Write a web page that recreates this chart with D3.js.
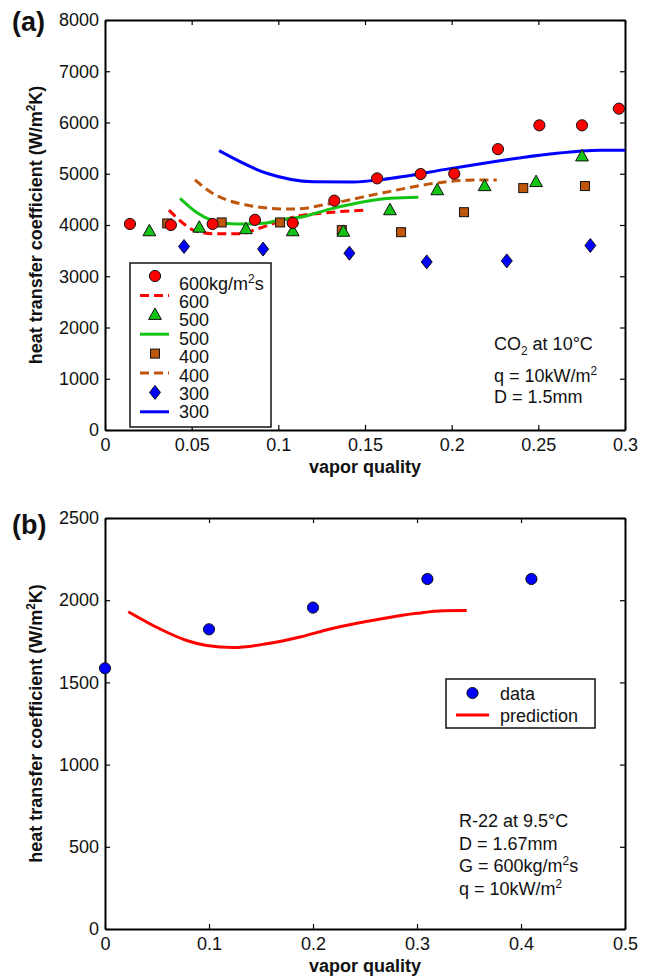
<!DOCTYPE html>
<html>
<head>
<meta charset="utf-8">
<script src="https://cdn.jsdelivr.net/npm/d3@7"></script>
<style>
  html, body { margin: 0; padding: 0; background: #fff; }
  svg { display: block; font-family: "Liberation Sans", Arial, Helvetica, sans-serif; }
  .axis path, .axis line { stroke: #000; }
  .axis text { font-size: 18px; fill: #111; font-family: "Liberation Sans", Arial, sans-serif; }
</style>
</head>
<body>
<svg id="fig" width="650" height="977"></svg>
<script>
// ---------- panel (a): CO2 flow boiling, measured vs predicted ----------
const xTicksA = [0, 0.05, 0.1, 0.15, 0.2, 0.25, 0.3];
const xTickLabelsA = ["0", "0.05", "0.1", "0.15", "0.2", "0.25", "0.3"];
const yTicksA = [0, 1000, 2000, 3000, 4000, 5000, 6000, 7000, 8000];

// measured points, G = 600 / 500 / 400 / 300 kg/m2s
const q600 = [0.0144, 0.038, 0.0621, 0.0865, 0.1083, 0.1323, 0.157, 0.1821, 0.2015, 0.2267, 0.2506, 0.2752, 0.2965];
const h600 = [4020, 4000, 4020, 4100, 4040, 4475, 4910, 4995, 5000, 5480, 5945, 5945, 6270];
const q500 = [0.0256, 0.0544, 0.0813, 0.1083, 0.1375, 0.1644, 0.1917, 0.2190, 0.2487, 0.2752];
const h500 = [3880, 3950, 3920, 3880, 3870, 4290, 4680, 4760, 4840, 5340];
const q400 = [0.0359, 0.0673, 0.1010, 0.1366, 0.1708, 0.2071, 0.2413, 0.2769];
const h400 = [4030, 4050, 4050, 3900, 3860, 4250, 4720, 4760];
const q300 = [0.0456, 0.0912, 0.1410, 0.1856, 0.2318, 0.2800];
const h300 = [3580, 3530, 3450, 3280, 3300, 3600];

// predicted curves
const pq600 = [0.0369, 0.0452, 0.0509, 0.0623, 0.0779, 0.0875, 0.0990, 0.1106, 0.1298, 0.151];
const ph600 = [4290, 4030, 3900, 3830, 3830, 3920, 4050, 4170, 4245, 4290];
const pq500 = [0.0433, 0.0529, 0.0625, 0.0702, 0.0817, 0.0933, 0.101, 0.1125, 0.1298, 0.1644, 0.1808];
const ph500 = [4520, 4245, 4080, 4030, 4020, 4040, 4100, 4150, 4310, 4520, 4540];
const pq400 = [0.0519, 0.0606, 0.0702, 0.0817, 0.0952, 0.1087, 0.1298, 0.1606, 0.1894, 0.2087, 0.226];
const ph400 = [4880, 4650, 4490, 4390, 4325, 4310, 4415, 4630, 4810, 4875, 4880];
const pq300 = [0.0658, 0.0933, 0.1202, 0.1433, 0.1604, 0.199, 0.2279, 0.2567, 0.2856, 0.3];
const ph300 = [5450, 5010, 4845, 4840, 4890, 5100, 5255, 5385, 5460, 5460];

// ---------- panel (b): R-22 ----------
const xTicksB = [0, 0.1, 0.2, 0.3, 0.4, 0.5];
const xTickLabelsB = ["0", "0.1", "0.2", "0.3", "0.4", "0.5"];
const yTicksB = [0, 500, 1000, 1500, 2000, 2500];
const qData = [0, 0.1, 0.2, 0.31, 0.41];
const hData = [1586, 1823, 1955, 2129, 2129];
const qPred = [0.0224, 0.0529, 0.0785, 0.0977, 0.1234, 0.1555, 0.1875, 0.2163, 0.2676, 0.2997, 0.3253, 0.3478];
const hPred = [1930, 1825, 1755, 1725, 1712, 1735, 1776, 1825, 1889, 1920, 1936, 1937];

const RED = "#ff0000", GREEN = "#14c414", BROWN = "#c0560c", BLUE = "#0000ff";

const svg = d3.select("#fig");
const zip = (a, b) => a.map((v, i) => [v, b[i]]);

function frame(x, y, xTicks, xLabels, yTicks) {
  const g = svg.append("g");
  const [x0, x1] = x.range(), [y0, y1] = y.range();
  g.append("g").attr("class", "axis").attr("transform", `translate(0,${y0})`)
    .call(d3.axisBottom(x).tickValues(xTicks).tickFormat((d, i) => xLabels[i]).tickSize(-5).tickSizeOuter(0).tickPadding(8));
  g.append("g").attr("class", "axis").attr("transform", `translate(${x0},0)`)
    .call(d3.axisLeft(y).tickValues(yTicks).tickFormat(d => String(d)).tickSize(-5).tickSizeOuter(0).tickPadding(6));
  g.append("g").attr("class", "axis").attr("transform", `translate(0,${y1})`)
    .call(d3.axisTop(x).tickValues(xTicks).tickFormat("").tickSize(-5).tickSizeOuter(0));
  g.append("g").attr("class", "axis").attr("transform", `translate(${x1},0)`)
    .call(d3.axisRight(y).tickValues(yTicks).tickFormat("").tickSize(-5).tickSizeOuter(0));
  g.selectAll(".axis path.domain").attr("stroke-width", 2);
  g.selectAll(".axis .tick line").attr("stroke-width", 1.2);
  return g;
}

function label(g, xs, y, parts, opts = {}) {
  // parts: array of [text, "n"|"sup"|"sub"]
  const t = g.append("text").attr("x", xs).attr("y", y)
    .attr("font-size", opts.size || 18).attr("fill", "#111")
    .attr("font-weight", opts.bold ? "bold" : null)
    .attr("text-anchor", opts.anchor || "start");
  if (opts.rotate) t.attr("transform", `rotate(${opts.rotate},${xs},${y})`);
  let shift = 0;
  parts.forEach(([s, kind]) => {
    const target = kind === "sup" ? -7 : kind === "sub" ? 5 : 0;
    t.append("tspan").attr("dy", target - shift)
      .attr("font-size", kind === "n" ? null : (opts.size || 18) * 0.66).text(s);
    shift = target;
  });
  return t;
}

const symTri = "M0,-6.8 L6.4,4.6 L-6.4,4.6 Z";
const symDia = "M0,-7 L5.5,0 L0,7 L-5.5,0 Z";
function marker(g, kind, color, cx, cy) {
  if (kind === "circle")
    g.append("circle").attr("cx", cx).attr("cy", cy).attr("r", 5.6).attr("fill", color).attr("stroke", "#111").attr("stroke-width", 1);
  else if (kind === "square")
    g.append("rect").attr("x", cx - 4.5).attr("y", cy - 4.5).attr("width", 9).attr("height", 9).attr("fill", color).attr("stroke", "#111").attr("stroke-width", 1);
  else
    g.append("path").attr("d", kind === "tri" ? symTri : symDia).attr("transform", `translate(${cx},${cy})`)
      .attr("fill", color).attr("stroke", "#111").attr("stroke-width", 1);
}

// ===== panel (a) =====
const xA = d3.scaleLinear([0, 0.3], [105, 625]);
const yA = d3.scaleLinear([0, 8000], [430, 20]);
const gA = frame(xA, yA, xTicksA, xTickLabelsA, yTicksA);

const lineA = d3.line().x(d => xA(d[0])).y(d => yA(d[1])).curve(d3.curveMonotoneX);
const curvesA = [
  { q: pq600, h: ph600, c: RED, dash: "9,5" },
  { q: pq500, h: ph500, c: GREEN, dash: null },
  { q: pq400, h: ph400, c: BROWN, dash: "9,5" },
  { q: pq300, h: ph300, c: BLUE, dash: null }
];
curvesA.forEach(s => {
  gA.append("path").attr("d", lineA(zip(s.q, s.h))).attr("fill", "none")
    .attr("stroke", s.c).attr("stroke-width", 3).attr("stroke-dasharray", s.dash);
});
const pointsA = [
  { q: q300, h: h300, k: "dia", c: BLUE },
  { q: q400, h: h400, k: "square", c: BROWN },
  { q: q500, h: h500, k: "tri", c: GREEN },
  { q: q600, h: h600, k: "circle", c: RED }
];
pointsA.forEach(s => s.q.forEach((q, i) => marker(gA, s.k, s.c, xA(q), yA(s.h[i]))));

// legend (a)
const legA = gA.append("g");
legA.append("rect").attr("x", 130).attr("y", 263).attr("width", 141).attr("height", 164)
  .attr("fill", "#fff").attr("stroke", "#111").attr("stroke-width", 1.5);
const legEntries = [
  { k: "circle", c: RED, t: [["600kg/m", "n"], ["2", "sup"], ["s", "n"]] },
  { k: "line", c: RED, dash: "9,5", t: [["600", "n"]] },
  { k: "tri", c: GREEN, t: [["500", "n"]] },
  { k: "line", c: GREEN, dash: null, t: [["500", "n"]] },
  { k: "square", c: BROWN, t: [["400", "n"]] },
  { k: "line", c: BROWN, dash: "9,5", t: [["400", "n"]] },
  { k: "dia", c: BLUE, t: [["300", "n"]] },
  { k: "line", c: BLUE, dash: null, t: [["300", "n"]] }
];
legEntries.forEach((e, i) => {
  const my = 276 + i * 19.4;
  if (e.k === "line")
    legA.append("line").attr("x1", 140).attr("x2", 169).attr("y1", my).attr("y2", my)
      .attr("stroke", e.c).attr("stroke-width", 3).attr("stroke-dasharray", e.dash);
  else marker(legA, e.k, e.c, 155, my);
  label(legA, 179, 283.3 + i * 18.34 + 6.5, e.t);
});

// annotations (a)
label(gA, 494, 350, [["CO", "n"], ["2", "sub"], [" at 10°C", "n"]]);
label(gA, 494, 382, [["q = 10kW/m", "n"], ["2", "sup"]]);
label(gA, 494, 403, [["D = 1.5mm", "n"]]);

label(gA, 365, 473, [["vapor quality", "n"]], { bold: true, anchor: "middle" });
label(gA, 42, 225, [["heat transfer coefficient (W/m", "n"], ["2", "sup"], ["K)", "n"]], { bold: true, anchor: "middle", rotate: -90 });
label(gA, 12, 31, [["(a)", "n"]], { bold: true, size: 27 });

// ===== panel (b) =====
const xB = d3.scaleLinear([0, 0.5], [105, 625]);
const yB = d3.scaleLinear([0, 2500], [929, 518]);
const gB = frame(xB, yB, xTicksB, xTickLabelsB, yTicksB);

const lineB = d3.line().x(d => xB(d[0])).y(d => yB(d[1])).curve(d3.curveMonotoneX);
gB.append("path").attr("d", lineB(zip(qPred, hPred))).attr("fill", "none")
  .attr("stroke", RED).attr("stroke-width", 3);
qData.forEach((q, i) => marker(gB, "circle", BLUE, xB(q), yB(hData[i])));

// legend (b)
const legB = gB.append("g");
legB.append("rect").attr("x", 446).attr("y", 679).attr("width", 149).attr("height", 49)
  .attr("fill", "#fff").attr("stroke", "#111").attr("stroke-width", 1.5);
marker(legB, "circle", BLUE, 472.5, 693);
label(legB, 500, 699.5, [["data", "n"]]);
legB.append("line").attr("x1", 456).attr("x2", 489).attr("y1", 715).attr("y2", 715)
  .attr("stroke", RED).attr("stroke-width", 3);
label(legB, 500, 721.5, [["prediction", "n"]]);

// annotations (b)
label(gB, 459, 827, [["R-22 at 9.5°C", "n"]]);
label(gB, 459, 849.5, [["D = 1.67mm", "n"]]);
label(gB, 459, 872, [["G = 600kg/m", "n"], ["2", "sup"], ["s", "n"]]);
label(gB, 459, 894.5, [["q = 10kW/m", "n"], ["2", "sup"]]);

label(gB, 365, 972, [["vapor quality", "n"]], { bold: true, anchor: "middle" });
label(gB, 42, 723.5, [["heat transfer coefficient (W/m", "n"], ["2", "sup"], ["K)", "n"]], { bold: true, anchor: "middle", rotate: -90 });
label(gB, 12, 534, [["(b)", "n"]], { bold: true, size: 27 });
</script>
</body>
</html>
